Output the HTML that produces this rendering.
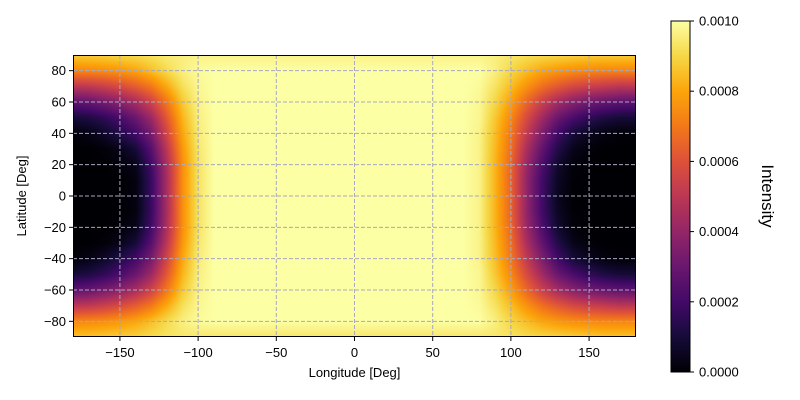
<!DOCTYPE html>
<html><head><meta charset="utf-8"><style>
html,body{margin:0;padding:0;background:#fff;width:800px;height:400px;overflow:hidden}
#wrap{position:relative;width:800px;height:400px;font-family:"Liberation Sans",sans-serif}
canvas{position:absolute}
svg{position:absolute;left:0;top:0}
text{font-family:"Liberation Sans",sans-serif;font-size:13px;fill:#000}
</style></head><body>
<div id="wrap">
<canvas id="hm" width="563" height="282" style="left:73px;top:55px"></canvas>
<svg id="ov" width="800" height="400"></svg>
</div>
<script>
// Data (intensity in units of 1e-4), lon -180..180 step 10, lat 90 (top) .. -90 (bottom) step 10
const lons = [-180,-170,-160,-150,-140,-130,-120,-110,-100,-90,-80,-70,-60,-50,-40,-30,-20,-10,0,10,20,30,40,50,60,70,80,90,100,110,120,130,140,150,160,170,180];
const lats = [90,80,70,60,50,40,30,20,10,0,-10,-20,-30,-40,-50,-60,-70,-80,-90];
const M = "10,10,10,10,10,10,10,10,10,10,10,10,10,10,10,10";
const rows = [
 "8.8,8.8,8.9,9,9.1,9.3,9.5,9.6,9.7,9.7,9.7,9.7,9.7,9.7,9.7,9.7,9.7,9.7,9.7,9.7,9.7,9.7,9.7,9.7,9.7,9.7,9.7,9.6,9.4,9.2,9.1,9,8.9,8.8,8.8,8.8,8.8",
 "7.3,7.4,7.5,7.7,8,8.5,9.1,9.6,9.9,10,"+M+",10,9.6,9,8.5,8,7.7,7.5,7.4,7.3,7.3,7.3",
 "5,5.1,5.4,5.8,6.3,7,8.1,9.2,9.8,10,"+M+",9.9,9.3,8.5,7.6,6.8,6.2,5.7,5.4,5.2,5,5",
 "2.7,2.9,3.3,3.8,4.5,5.5,7,8.7,9.7,10,"+M+",9.8,9,7.9,6.6,5.4,4.4,3.7,3.2,2.9,2.7,2.7",
 "1,1.2,1.6,2.2,3,4.2,6.2,8.3,9.6,10,"+M+",9.8,8.7,7.4,5.8,4.3,3,2.2,1.6,1.2,1,1",
 "0.1,0.3,0.7,1.3,2,3.3,5.6,8,9.5,10,"+M+",9.7,8.5,7,5.2,3.5,2,1,0.5,0.2,0.05,0.05",
 "0,0,0.1,0.4,1,2.5,5,7.7,9.4,10,"+M+",9.7,8.4,6.8,4.6,2.8,1.3,0.4,0.1,0,0,0",
 "0,0,0,0.1,0.4,2,4.6,7.5,9.3,10,"+M+",9.7,8.3,6.6,4.2,2.3,0.8,0.1,0,0,0,0",
 "0,0,0,0,0.2,1.8,4.5,7.5,9.3,10,"+M+",9.7,8.3,6.5,4,2,0.6,0.05,0,0,0,0",
 "0,0,0,0,0.2,1.8,4.5,7.5,9.3,10,"+M+",9.7,8.3,6.5,4,2,0.5,0,0,0,0,0",
 "0,0,0,0,0.2,1.8,4.5,7.5,9.3,10,"+M+",9.7,8.3,6.5,4,2,0.6,0.05,0,0,0,0",
 "0,0,0,0.1,0.4,2,4.6,7.5,9.3,10,"+M+",9.7,8.3,6.6,4.2,2.3,0.8,0.1,0,0,0,0",
 "0,0,0.1,0.4,1,2.5,5,7.7,9.4,10,"+M+",9.7,8.4,6.8,4.6,2.8,1.3,0.4,0.1,0,0,0",
 "0.1,0.3,0.7,1.3,2,3.3,5.6,8,9.5,10,"+M+",9.7,8.5,7,5.2,3.5,2,1,0.5,0.2,0.05,0.05",
 "1,1.2,1.6,2.2,3,4.2,6.2,8.3,9.6,10,"+M+",9.8,8.7,7.4,5.8,4.3,3,2.2,1.6,1.2,1,1",
 "2.7,2.9,3.3,3.8,4.5,5.5,7,8.7,9.7,10,"+M+",9.8,9,7.9,6.6,5.4,4.4,3.7,3.2,2.9,2.7,2.7",
 "5,5.1,5.4,5.8,6.3,7,8.1,9.2,9.8,10,"+M+",9.9,9.3,8.5,7.6,6.8,6.2,5.7,5.4,5.2,5,5",
 "7.3,7.4,7.5,7.7,8,8.5,9.1,9.6,9.9,10,"+M+",10,9.6,9,8.5,8,7.7,7.5,7.4,7.3,7.3,7.3",
 "8.6,8.6,8.7,8.8,8.9,9.1,9.3,9.4,9.4,9.4,9.4,9.4,9.4,9.4,9.4,9.4,9.4,9.4,9.4,9.4,9.4,9.4,9.4,9.4,9.4,9.4,9.4,9.4,9.3,9.1,9,8.9,8.8,8.7,8.6,8.6,8.6"
];
const values = rows.map(r => r.split(",").map(Number));
const xTicks = [-150,-100,-50,0,50,100,150];
const yTicks = [-80,-60,-40,-20,0,20,40,60,80];
const cTicks = ["0.0000","0.0002","0.0004","0.0006","0.0008","0.0010"];
const vmin = 0, vmax = 10;

// inferno colormap stops
const cmap = [[0,0,4],[22,11,57],[66,10,104],[106,23,110],[147,38,103],[188,55,84],[221,81,58],[243,120,25],[252,165,10],[246,215,70],[252,255,164]];
function color(t){t=Math.max(0,Math.min(1,t));const f=t*10,i=Math.min(9,Math.floor(f)),u=f-i;const a=cmap[i],b=cmap[i+1];return [a[0]+(b[0]-a[0])*u,a[1]+(b[1]-a[1])*u,a[2]+(b[2]-a[2])*u];}

const PX=73,PY=55,PW=563,PH=282;
const xs = lon => PX + (lon+180)/360*PW;
const ys = lat => PY + (90-lat)/180*PH;

function sample(lon,lat){
  const fx=(lon-lons[0])/(lons[1]-lons[0]); const fy=(lats[0]-lat)/(lats[0]-lats[1]);
  const i=Math.max(0,Math.min(lons.length-2,Math.floor(fx))), j=Math.max(0,Math.min(lats.length-2,Math.floor(fy)));
  const u=fx-i, v=fy-j;
  const a=values[j][i],b=values[j][i+1],c=values[j+1][i],d=values[j+1][i+1];
  return (a*(1-u)+b*u)*(1-v)+(c*(1-u)+d*u)*v;
}
const cv=document.getElementById('hm'),ctx=cv.getContext('2d');
const img=ctx.createImageData(PW,PH);
for(let py=0;py<PH;py++){const lat=90-(py+0.5)/PH*180;
 for(let px=0;px<PW;px++){const lon=-180+(px+0.5)/PW*360;
  const c=color((sample(lon,lat)-vmin)/(vmax-vmin));const k=(py*PW+px)*4;
  img.data[k]=c[0];img.data[k+1]=c[1];img.data[k+2]=c[2];img.data[k+3]=255;}}
ctx.putImageData(img,0,0);

const NS='http://www.w3.org/2000/svg', svg=document.getElementById('ov');
function el(tag,attrs,txt){const e=document.createElementNS(NS,tag);for(const k in attrs)e.setAttribute(k,attrs[k]);if(txt!==undefined)e.textContent=txt;svg.appendChild(e);return e;}

xTicks.forEach(v=>{const x=xs(v);
 const g=el('line',{x1:x,y1:PY,x2:x,y2:PY+PH,stroke:'#a8a8c0','stroke-width':1,'stroke-dasharray':'4,2'});
 
 
 const t=el('line',{x1:x,y1:PY+PH,x2:x,y2:PY+PH+4,stroke:'#000'});
 
 
 const l=el('text',{x:x,y:PY+PH+20,'text-anchor':'middle'},v<0?'\u2212'+(-v):String(v));
 
 
});
yTicks.forEach(v=>{const y=ys(v);
 const g=el('line',{x1:PX,y1:y,x2:PX+PW,y2:y,stroke:'#a8a8c0','stroke-width':1,'stroke-dasharray':'4,2'});
 
 
 const t=el('line',{x1:PX-4,y1:y,x2:PX,y2:y,stroke:'#000'});
 
 
 const l=el('text',{x:PX-7,y:y+4.5,'text-anchor':'end'},v<0?'\u2212'+(-v):String(v));
 
 
});
const fr=el('rect',{x:PX+0.5,y:PY+0.5,width:PW-1,height:PH-1,fill:'none',stroke:'#000'});


const xl=el('text',{x:PX+PW/2,y:377,'text-anchor':'middle'},'Longitude [Deg]');


const yl=el('text',{x:0,y:0,'text-anchor':'middle',transform:'translate(26,196) rotate(-90)'},'Latitude [Deg]');



// colorbar
const CX=671,CY=21,CW=19,CH=351;
const defs=el('defs',{});const lg=document.createElementNS(NS,'linearGradient');
lg.setAttribute('id','cg');lg.setAttribute('x1','0');lg.setAttribute('y1','1');lg.setAttribute('x2','0');lg.setAttribute('y2','0');
cmap.forEach((c,i)=>{const s=document.createElementNS(NS,'stop');s.setAttribute('offset',i/10);s.setAttribute('stop-color','rgb('+c.join(',')+')');lg.appendChild(s);});
defs.appendChild(lg);
const cb=el('rect',{x:CX,y:CY,width:CW,height:CH,fill:'url(#cg)',stroke:'#000','stroke-width':1});


cTicks.forEach((s,i)=>{const y=CY+CH-i/(cTicks.length-1)*CH;
 const t=el('line',{x1:CX+CW,y1:y,x2:CX+CW+4,y2:y,stroke:'#000'});
 
 
 const l=el('text',{x:CX+CW+9,y:y+4.5},s);
 
 
});
const ci=el('text',{x:0,y:0,'text-anchor':'middle',transform:'translate(762,196) rotate(90)',style:'font-size:17px'},'Intensity');


</script>
</body></html>
